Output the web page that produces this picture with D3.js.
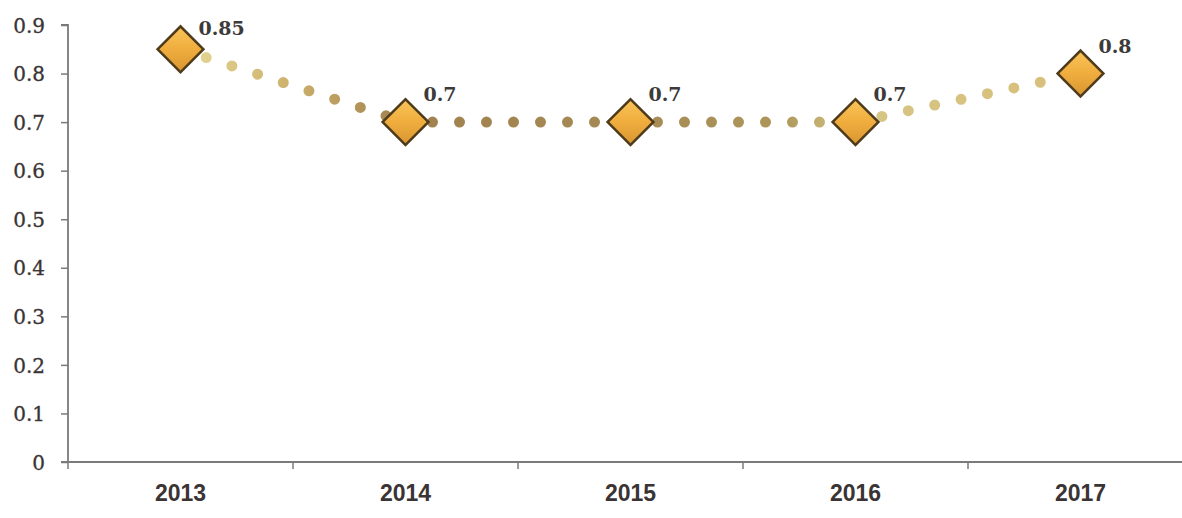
<!DOCTYPE html>
<html><head><meta charset="utf-8">
<script src="https://cdn.jsdelivr.net/npm/d3@7"></script>
<style>body{margin:0;background:#fff}svg{display:block}</style>
</head><body>
<svg id="chart" width="1182" height="518"></svg>
<script>
const categories = ["2013", "2014", "2015", "2016", "2017"];
const values = [0.85, 0.7, 0.7, 0.7, 0.8];
const valueLabels = ["0.85", "0.7", "0.7", "0.7", "0.8"];
const yTicks = [0, 0.1, 0.2, 0.3, 0.4, 0.5, 0.6, 0.7, 0.8, 0.9];

(function () {
const svg = d3.select("#chart");
const W = 1182, H = 518;
const mLeft = 68, mTop = 25, mBottom = 462, mRight = 68 + 225 * 5;

const x = d3.scaleBand().domain(categories).range([mLeft, mRight]);
const y = d3.scaleLinear().domain([0, 0.9]).range([mBottom, mTop]);

const defs = svg.append("defs");
const lg = defs.append("linearGradient").attr("id", "lineGrad")
  .attr("gradientUnits", "userSpaceOnUse")
  .attr("x1", 0).attr("x2", W).attr("y1", 0).attr("y2", 0);
const cx = c => x(c) + x.bandwidth() / 2;
[[cx("2013"), "#e6da98"], [cx("2013") + 110, "#cdb16c"], [cx("2014"), "#a0814f"],
 [cx("2015"), "#a68a55"], [cx("2015") + 150, "#ad965a"], [cx("2016"), "#d6c584"],
 [cx("2017"), "#d8bf7a"]].forEach(([px, col]) => {
  lg.append("stop").attr("offset", px / W).attr("stop-color", col);
});
const dg = defs.append("linearGradient").attr("id", "diaGrad")
  .attr("x1", 0).attr("y1", 0).attr("x2", 1).attr("y2", 1);
dg.append("stop").attr("offset", 0).attr("stop-color", "#f9c458");
dg.append("stop").attr("offset", 0.5).attr("stop-color", "#f0ad3e");
dg.append("stop").attr("offset", 1).attr("stop-color", "#d89530");

// Y axis
const yAxis = svg.append("g").attr("transform", `translate(${mLeft},0)`)
  .call(d3.axisLeft(y).tickValues(yTicks).tickFormat(d => d === 0 ? "0" : d3.format(".1f")(d)).tickSize(7).tickPadding(16));
yAxis.select(".domain").attr("stroke", "#7a7a7a").attr("stroke-width", 1.8).attr("d", `M-7,${mTop}H0V${mBottom}`);
yAxis.selectAll(".tick line").attr("stroke", "#7a7a7a").attr("stroke-width", 1.5);
yAxis.selectAll(".tick text").attr("font-family", "DejaVu Serif").attr("font-size", 20)
  .attr("fill", "#3a3434").attr("stroke", "#3a3434").attr("stroke-width", 0.3).attr("dy", "0.36em");

// X axis
const xAxis = svg.append("g").attr("transform", `translate(0,${mBottom})`)
  .call(d3.axisBottom(x).tickSize(0).tickPadding(22));
xAxis.select(".domain").attr("stroke", "#7a7a7a").attr("stroke-width", 1.8).attr("d", `M${mLeft - 7},0H${W}`);
xAxis.selectAll(".tick text").attr("font-family", "Liberation Sans").attr("font-weight", "bold")
  .attr("font-size", 23).attr("fill", "#3a3434").attr("dy", "0.72em");
svg.append("g").selectAll("line").data(categories).join("line")
  .attr("x1", d => x(d)).attr("x2", d => x(d))
  .attr("y1", mBottom).attr("y2", mBottom + 7)
  .attr("stroke", "#7a7a7a").attr("stroke-width", 1.5);

// dotted line
const pts = categories.map((c, i) => [cx(c), y(values[i])]);
for (let i = 0; i < pts.length - 1; i++) {
  svg.append("path")
    .attr("d", d3.line()([pts[i], pts[i + 1]]))
    .attr("fill", "none").attr("stroke", "url(#lineGrad)")
    .attr("stroke-width", 11).attr("stroke-linecap", "round")
    .attr("stroke-dasharray", "0 27");
}

// markers
const sym = d3.symbol().type(d3.symbolSquare).size(1050);
svg.append("g").selectAll("path").data(pts).join("path")
  .attr("d", sym)
  .attr("transform", d => `translate(${d[0]},${d[1]}) rotate(45)`)
  .attr("fill", "url(#diaGrad)").attr("stroke", "#4e3b1c").attr("stroke-width", 2.5)
  .attr("stroke-linejoin", "miter");

// labels
svg.append("g").selectAll("text").data(pts).join("text")
  .attr("x", d => d[0] + 18)
  .attr("y", d => Math.max(d[1] - 21, 35))
  .attr("font-family", "DejaVu Serif").attr("font-weight", "bold").attr("font-size", 19)
  .attr("fill", "#3d3a3a")
  .text((d, i) => valueLabels[i]);
})();
</script>
</body></html>
